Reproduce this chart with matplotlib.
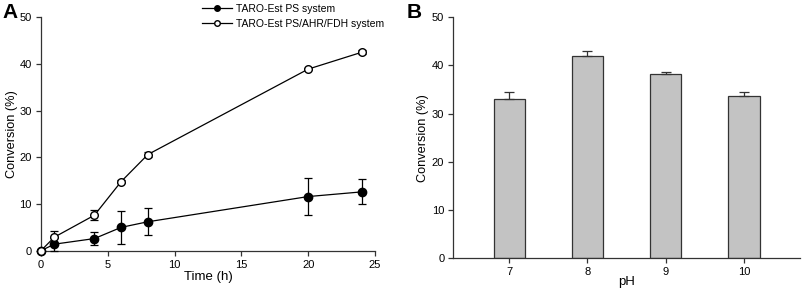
import matplotlib.pyplot as plt
from matplotlib.lines import Line2D
import numpy as np

plt.rcParams['font.family'] = ['Liberation Sans', 'DejaVu Sans']

# panel A data
time_h = [0, 1, 4, 6, 8, 20, 24]
ps_conv = [0, 1.4, 2.6, 5.0, 6.2, 11.6, 12.6]
ps_err = [0, 1.4, 1.4, 3.6, 2.9, 3.9, 2.7]
ahr_conv = [0, 2.9, 7.6, 14.8, 20.6, 38.9, 42.5]
ahr_err = [0, 1.3, 1.1, 0.3, 0.6, 0.2, 0.4]
series_labels = ['TARO-Est PS system', 'TARO-Est PS/AHR/FDH system']

# panel B data
ph_values = [7, 8, 9, 10]
ph_conv = [33.0, 42.0, 38.2, 33.6]
ph_err = [1.5, 1.1, 0.4, 0.8]

fig = plt.figure(figsize=(8.03, 2.92), dpi=100)

'''panel A: time course'''
axA = fig.add_axes([0.051, 0.1414, 0.416, 0.7994])
axA.errorbar(time_h, ps_conv, yerr=ps_err, color='black', marker='o', ms=6,
             mfc='black', mec='black', lw=0.9, elinewidth=0.9, capsize=3,
             capthick=0.9, zorder=3)
axA.errorbar(time_h, ahr_conv, yerr=ahr_err, color='black', marker='o', ms=5.5,
             mfc='white', mec='black', lw=0.9, elinewidth=0.9, capsize=3,
             capthick=0.9, zorder=4)
for art in axA.lines + list(axA.collections):
    art.set_clip_on(False)
axA.set_xlim(0, 25)
axA.set_ylim(0, 50)
axA.set_xticks([0, 5, 10, 15, 20, 25])
axA.set_yticks([0, 10, 20, 30, 40, 50])
axA.set_xlabel('Time (h)', fontsize=9.5, labelpad=1)
axA.set_ylabel('Conversion (%)', fontsize=9.2, labelpad=1)
handles = [Line2D([], [], color='black', lw=0.9, marker='o', ms=4, mfc='black', mec='black'),
           Line2D([], [], color='black', lw=0.9, marker='o', ms=4, mfc='white', mec='black')]
axA.legend(handles, series_labels, loc='upper right', bbox_to_anchor=(1.04, 1.075),
           frameon=False, fontsize=7.5, handlelength=2.9, handletextpad=0.4,
           labelspacing=0.45, borderaxespad=0)

'''panel B: pH'''
axB = fig.add_axes([0.5645, 0.1154, 0.4315, 0.8254])
axB.bar(ph_values, ph_conv, width=0.4, color='#c3c3c3', edgecolor='#333333',
        linewidth=0.9, zorder=2)
axB.errorbar(ph_values, ph_conv, yerr=[np.zeros(len(ph_err)), ph_err],
             fmt='none', ecolor='#333333', elinewidth=0.9, capsize=3.6,
             capthick=0.9, zorder=3)
axB.set_xlim(6.285, 10.715)
axB.set_ylim(0, 50)
axB.set_xticks(ph_values)
axB.set_yticks([0, 10, 20, 30, 40, 50])
axB.set_xlabel('pH', fontsize=9.5, labelpad=-1)
axB.set_ylabel('Conversion (%)', fontsize=9.2, labelpad=2)

for ax in (axA, axB):
    ax.spines['top'].set_visible(False)
    ax.spines['right'].set_visible(False)
    for s in ('left', 'bottom'):
        ax.spines[s].set_linewidth(0.9)
        ax.spines[s].set_color('#333333')
    ax.tick_params(labelsize=8, length=3.5, width=0.9, color='#333333', pad=3)

fig.text(0.003, 0.99, 'A', fontsize=15, fontweight='bold', va='top')
fig.text(0.506, 0.99, 'B', fontsize=15, fontweight='bold', va='top')

fig.savefig('out.png', dpi=100)
